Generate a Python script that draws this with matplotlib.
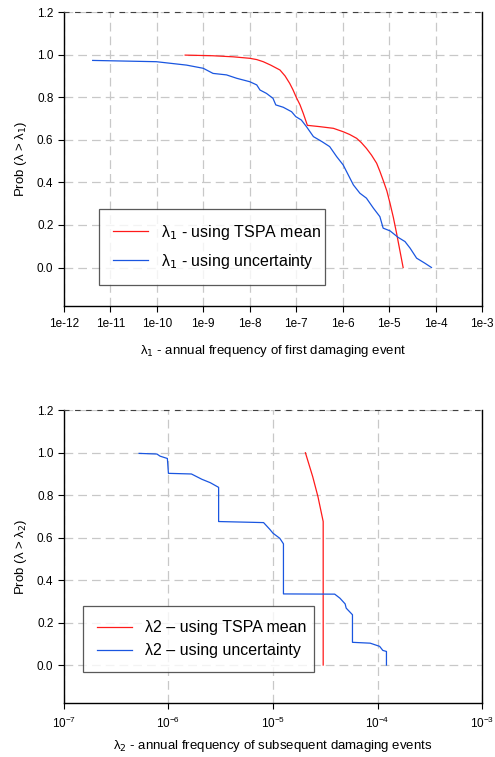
import matplotlib.pyplot as plt
import numpy as np

plt.rcParams['font.family'] = ['Liberation Sans', 'DejaVu Sans']

# top panel: lambda_1 (log10 of frequency, probability)
tspa1_logx = [-9.39, -8.8, -8.36, -8.0, -7.85, -7.71, -7.55, -7.35, -7.24, -7.14, -7.07,
              -7.0, -6.92, -6.85, -6.76, -6.5, -6.2, -5.99, -5.85, -5.70, -5.60, -5.49,
              -5.38, -5.27, -5.20, -5.13, -5.05, -4.98, -4.91, -4.84, -4.77, -4.70]
tspa1_p = [0.998, 0.995, 0.99, 0.983, 0.977, 0.967, 0.951, 0.928, 0.90, 0.865, 0.835,
           0.80, 0.765, 0.725, 0.668, 0.662, 0.654, 0.638, 0.625, 0.607, 0.587, 0.56,
           0.528, 0.49, 0.452, 0.41, 0.36, 0.30, 0.235, 0.16, 0.08, 0.0]

unc1_logx = [-11.38, -10.01, -9.36, -9.0, -8.79, -8.5, -8.28, -8.0, -7.85, -7.78,
             -7.64, -7.5, -7.44, -7.28, -7.1, -7.01, -6.89, -6.78, -6.63, -6.45,
             -6.28, -6.13, -5.99, -5.88, -5.77, -5.63, -5.49, -5.34, -5.20, -5.13,
             -4.98, -4.81, -4.66, -4.55, -4.41, -4.23, -4.09]
unc1_p = [0.973, 0.967, 0.951, 0.936, 0.912, 0.905, 0.889, 0.873, 0.858, 0.834,
          0.818, 0.795, 0.764, 0.753, 0.732, 0.709, 0.693, 0.662, 0.615, 0.592,
          0.568, 0.521, 0.482, 0.435, 0.388, 0.349, 0.326, 0.279, 0.239, 0.185,
          0.172, 0.142, 0.122, 0.091, 0.044, 0.020, 0.0]

# bottom panel: lambda_2
tspa2_logx = [-4.69, -4.62, -4.57, -4.52, -4.52]
tspa2_p = [1.0, 0.887, 0.793, 0.676, 0.0]

unc2_logx = [-6.28, -6.11, -6.08, -6.01, -6.0, -5.78, -5.68, -5.60, -5.52, -5.52,
             -5.09, -5.03, -5.0, -4.935, -4.90, -4.90, -4.41, -4.36, -4.31, -4.30,
             -4.24, -4.24, -4.07, -3.98, -3.95, -3.915, -3.915]
unc2_p = [0.997, 0.994, 0.984, 0.973, 0.903, 0.900, 0.875, 0.859, 0.837, 0.676,
          0.671, 0.639, 0.621, 0.597, 0.571, 0.335, 0.334, 0.315, 0.288, 0.268,
          0.237, 0.107, 0.103, 0.088, 0.069, 0.064, 0.0]

top_ticks = [1e-12, 1e-11, 1e-10, 1e-9, 1e-8, 1e-7, 1e-6, 1e-5, 1e-4, 1e-3]
top_ticklabels = ['1e-12', '1e-11', '1e-10', '1e-9', '1e-8', '1e-7', '1e-6', '1e-5', '1e-4', '1e-3']
bot_ticks = [1e-7, 1e-6, 1e-5, 1e-4, 1e-3]
bot_ticklabels = ['$\\mathregular{10^{-7}}$', '$\\mathregular{10^{-6}}$', '$\\mathregular{10^{-5}}$',
                  '$\\mathregular{10^{-4}}$', '$\\mathregular{10^{-3}}$']
y_ticks = [0.0, 0.2, 0.4, 0.6, 0.8, 1.0, 1.2]

RED = '#ff1a1a'
BLUE = '#1a56e0'

fig = plt.figure(figsize=(4.95, 7.57), dpi=100)
ax1 = fig.add_axes([0.129, 0.596, 0.845, 0.388])
ax2 = fig.add_axes([0.129, 0.071, 0.845, 0.387])


def style(ax, ticks, labels, xlim):
    ax.set_xscale('log')
    ax.set_xlim(*xlim)
    ax.set_ylim(-0.18, 1.2)
    ax.set_xticks(ticks)
    ax.set_xticklabels(labels)
    ax.xaxis.set_minor_locator(plt.NullLocator())
    ax.set_yticks(y_ticks)
    ax.set_yticklabels(['%.1f' % v for v in y_ticks])
    ax.grid(True, color='#c8c8c8', linestyle=(0, (7, 4)), linewidth=0.9)
    ax.tick_params(axis='both', direction='out', length=4, width=0.8, labelsize=8.5,
                   colors='black', top=False, right=False)
    ax.tick_params(axis='x', pad=5)
    ax.spines['top'].set_linestyle((0, (4, 6)))
    ax.spines['top'].set_color('#404040')
    ax.spines['top'].set_linewidth(0.8)
    for s in ['left', 'bottom', 'right']:
        ax.spines[s].set_linewidth(1.0)
    ax.set_axisbelow(True)


leg_kw = dict(loc='lower left', mode='expand', fontsize=11.5, frameon=True, fancybox=False,
              edgecolor='#303030', handlelength=2.2, handletextpad=0.8, borderpad=0.9,
              borderaxespad=0)

# top chart
ax1.plot(10 ** np.array(tspa1_logx), tspa1_p, color=RED, lw=0.9,
         label='λ$_1$ - using TSPA mean')
ax1.plot(10 ** np.array(unc1_logx), unc1_p, color=BLUE, lw=0.9,
         label='λ$_1$ - using uncertainty')
style(ax1, top_ticks, top_ticklabels, (1e-12, 1e-3))
ax1.set_ylabel('Prob (λ > λ$_1$)', fontsize=9.5, labelpad=6)
ax1.set_xlabel('λ$_1$ - annual frequency of first damaging event', fontsize=9.5, labelpad=9)
leg1 = ax1.legend(bbox_to_anchor=(0.083, 0.071, 0.541, 0.232), labelspacing=0.6, **leg_kw)
leg1.get_frame().set_linewidth(0.9)

# bottom chart
ax2.plot(10 ** np.array(tspa2_logx), tspa2_p, color=RED, lw=0.9,
         label='λ2 – using TSPA mean')
ax2.plot(10 ** np.array(unc2_logx), unc2_p, color=BLUE, lw=0.9,
         label='λ2 – using uncertainty')
style(ax2, bot_ticks, bot_ticklabels, (1e-7, 1e-3))
ax2.set_ylabel('Prob (λ > λ$_2$)', fontsize=9.5, labelpad=6)
ax2.set_xlabel('λ$_2$ - annual frequency of subsequent damaging events', fontsize=9.5, labelpad=5)
leg2 = ax2.legend(bbox_to_anchor=(0.045, 0.105, 0.554, 0.22), labelspacing=0.5, **leg_kw)
leg2.get_frame().set_linewidth(0.9)

fig.savefig('out.png', dpi=100)
